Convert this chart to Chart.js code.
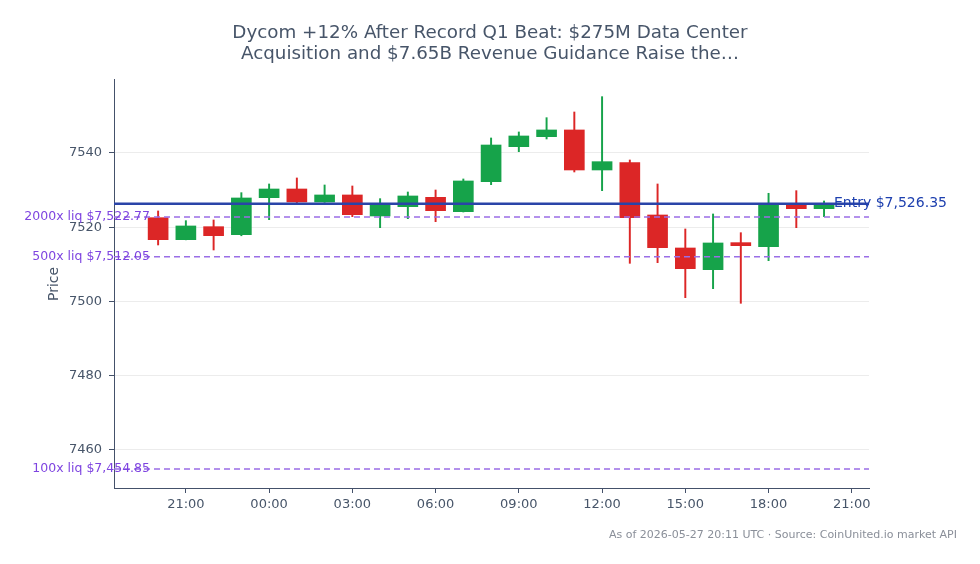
<!DOCTYPE html>
<html>
<head>
<meta charset="utf-8">
<script src="https://cdn.jsdelivr.net/npm/chart.js@4.4.1/dist/chart.umd.min.js"></script>
<style>
html, body { margin: 0; padding: 0; background: #fff; }
#wrap { width: 980px; height: 564px; }
</style>
</head>
<body>
<div id="wrap"><canvas id="priceChart" width="980" height="564"></canvas></div>
<script>
// hourly candles, 20:00 -> 20:00 next day
const hours = ["20:00", "21:00", "22:00", "23:00", "00:00", "01:00", "02:00", "03:00", "04:00",
    "05:00", "06:00", "07:00", "08:00", "09:00", "10:00", "11:00", "12:00", "13:00", "14:00",
    "15:00", "16:00", "17:00", "18:00", "19:00", "20:00"];
const opens = [7522.57, 7516.65, 7520.15, 7518.00, 7527.96, 7530.30, 7526.80, 7528.69, 7523.03,
    7525.54, 7528.06, 7524.19, 7532.27, 7541.70, 7544.40, 7546.20, 7535.42, 7537.39, 7523.30,
    7514.41, 7508.57, 7515.85, 7514.77, 7526.26, 7525.00];
const highs = [7524.38, 7521.77, 7521.95, 7529.31, 7531.65, 7533.27, 7531.38, 7531.11, 7527.70,
    7529.49, 7530.03, 7533.00, 7544.04, 7545.66, 7549.51, 7551.04, 7555.17, 7538.11, 7531.65,
    7519.53, 7523.57, 7518.53, 7529.14, 7529.85, 7527.07];
const lows = [7515.22, 7516.60, 7513.87, 7517.70, 7522.03, 7526.45, 7526.70, 7522.84, 7519.88,
    7522.30, 7521.50, 7524.10, 7531.46, 7540.35, 7543.77, 7534.88, 7529.85, 7510.28, 7510.46,
    7501.03, 7503.45, 7499.51, 7510.99, 7519.88, 7522.84];
const closes = [7516.65, 7520.34, 7517.73, 7527.88, 7530.30, 7526.80, 7528.69, 7523.38, 7526.08,
    7528.42, 7524.46, 7532.46, 7542.15, 7544.58, 7546.20, 7535.42, 7537.66, 7522.57, 7514.50,
    7508.84, 7515.76, 7515.04, 7526.26, 7525.00, 7526.26];

// axis ticks (x = hours after first candle)
const xTickHours = [1, 4, 7, 10, 13, 16, 19, 22, 25];
const xTickLabels = ["21:00", "00:00", "03:00", "06:00", "09:00", "12:00", "15:00", "18:00", "21:00"];
const yTicks = [7460, 7480, 7500, 7520, 7540];

const entryPrice = 7526.35;
const entryLabel = "Entry $7,526.35";
const liqPrices = [7522.77, 7512.05, 7454.85];
const liqLabels = ["2000x liq $7,522.77", "500x liq $7,512.05", "100x liq $7,454.85"];

const UP = "#16a34a";
const DOWN = "#dc2626";
const AXIS = "#44516a";
const TEXT = "#475569";
const FONT = "'DejaVu Sans', sans-serif";

Chart.defaults.font.family = FONT;

const candleColors = opens.map((o, i) => closes[i] >= o ? UP : DOWN);
const bodies = hours.map((h, i) => ({ x: i, y: [opens[i], closes[i]] }));
const wicks = hours.map((h, i) => ({ x: i, y: [lows[i], highs[i]] }));

const overlayLines = {
    id: "overlayLines",
    afterDatasetsDraw(chart) {
        const { ctx, chartArea: a, scales: { y } } = chart;
        ctx.save();
        ctx.lineWidth = 1.5;
        ctx.strokeStyle = "#9a6ee6";
        ctx.setLineDash([6, 4]);
        liqPrices.forEach(p => {
            const py = y.getPixelForValue(p);
            ctx.beginPath();
            ctx.moveTo(a.left, py);
            ctx.lineTo(a.right, py);
            ctx.stroke();
        });
        ctx.setLineDash([]);
        ctx.lineWidth = 2.5;
        ctx.strokeStyle = "#2a44a8";
        const ey = y.getPixelForValue(entryPrice);
        ctx.beginPath();
        ctx.moveTo(a.left, ey);
        ctx.lineTo(a.right, ey);
        ctx.stroke();
        ctx.restore();
    },
    afterDraw(chart) {
        const { ctx, chartArea: a, scales: { y } } = chart;
        ctx.save();
        ctx.textBaseline = "middle";
        ctx.font = "12.5px " + FONT;
        ctx.fillStyle = "#7e44e0";
        ctx.textAlign = "right";
        liqPrices.forEach((p, i) => {
            ctx.fillText(liqLabels[i], a.left + 36, y.getPixelForValue(p));
        });
        ctx.font = "14px " + FONT;
        ctx.fillStyle = "#1e40af";
        ctx.textAlign = "left";
        ctx.fillText(entryLabel, a.right - 35, y.getPixelForValue(entryPrice));
        // footer note
        ctx.font = "11px " + FONT;
        ctx.fillStyle = "#8a8f99";
        ctx.textAlign = "right";
        ctx.fillText("As of 2026-05-27 20:11 UTC · Source: CoinUnited.io market API", 957, 535);
        ctx.restore();
    }
};

new Chart(document.getElementById("priceChart"), {
    type: "bar",
    data: {
        datasets: [
            {
                label: "body",
                data: bodies,
                backgroundColor: candleColors,
                borderWidth: 0,
                barThickness: 20,
                grouped: false,
                order: 1
            },
            {
                label: "wick",
                data: wicks,
                backgroundColor: candleColors,
                borderWidth: 0,
                barThickness: 1.3,
                grouped: false,
                order: 2
            }
        ]
    },
    options: {
        responsive: false,
        animation: false,
        layout: { padding: 0 },
        plugins: {
            legend: { display: false },
            tooltip: { enabled: false },
            title: {
                display: true,
                text: ["Dycom +12% After Record Q1 Beat: $275M Data Center",
                    "Acquisition and $7.65B Revenue Guidance Raise the\u2026"],
                color: TEXT,
                font: { family: FONT, size: 18.3, weight: "normal", lineHeight: 1.15 },
                padding: { top: 22.5, bottom: 15.4 }
            }
        },
        scales: {
            x: {
                type: "linear",
                min: -1.59,
                max: 25.62,
                offset: false,
                afterBuildTicks: s => { s.ticks = xTickHours.map(v => ({ value: v })); },
                afterFit: s => { s.height = 76; },
                ticks: {
                    callback: (v, i) => xTickLabels[i],
                    color: TEXT,
                    font: { size: 13 },
                    padding: 4,
                    maxRotation: 0,
                    autoSkip: false
                },
                grid: { drawOnChartArea: false, offset: false, tickLength: 5, tickColor: AXIS },
                border: { color: AXIS, width: 1 }
            },
            y: {
                min: 7449.76,
                max: 7559.66,
                afterBuildTicks: s => { s.ticks = yTicks.map(v => ({ value: v })); },
                afterFit: s => { s.width = 114; },
                ticks: { color: TEXT, font: { size: 13 }, padding: 7, callback: v => String(v) },
                grid: { color: "#ececec", tickLength: 5, tickColor: AXIS },
                border: { color: AXIS, width: 1 },
                title: {
                    display: true,
                    text: "Price",
                    color: TEXT,
                    font: { size: 14 },
                    padding: { top: 46, bottom: 0 }
                }
            },
            // empty right-hand margin, keeps the title centred on the page
            margin: {
                type: "linear",
                position: "right",
                display: true,
                afterFit: s => { s.width = 111; },
                ticks: { display: false },
                grid: { display: false },
                border: { display: false }
            }
        }
    },
    plugins: [overlayLines]
});
</script>
</body>
</html>
